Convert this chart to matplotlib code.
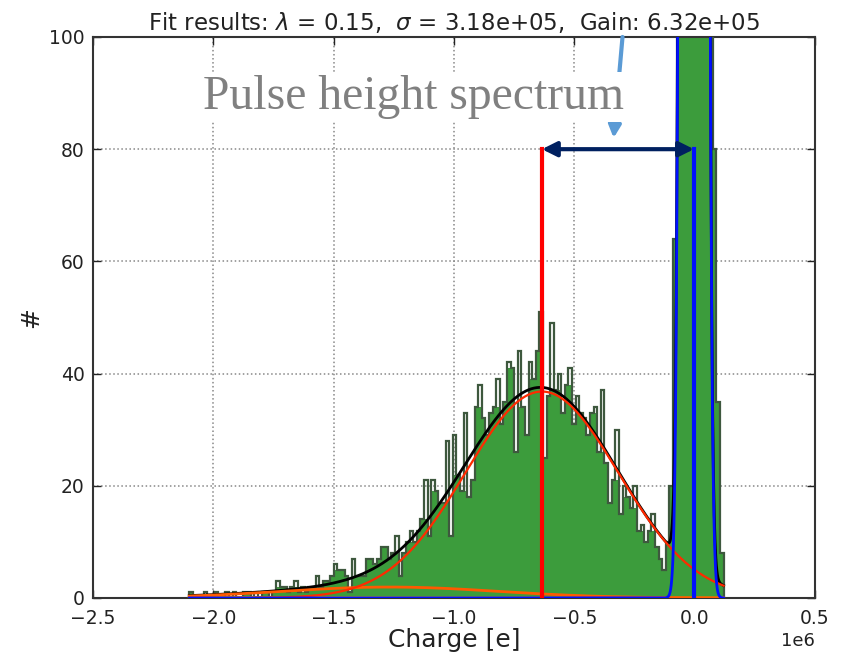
import numpy as np
import matplotlib
matplotlib.use("Agg")
import matplotlib.pyplot as plt

# fit results (from the title)
lam = 0.15
sigma = 3.18e5
gain = 6.32e5
ped_mu = -0.003e6
ped_sigma = 0.024e6
ped_amp = 5530.0
amp_1pe = 36.8

# histogram: 148 bins from -2.1e6 to 0.12e6
bin_lo = -2.1e6
bin_hi = 0.12e6
counts = [1, 0, 0, 0, 1, 0, 0, 1, 0, 0, 1, 0, 1, 0, 0, 1, 1, 0, 1, 0, 1, 1, 0,
          1, 3, 2, 2, 1, 2, 3, 1, 2, 1, 2, 2, 4, 2, 3, 3, 4, 6, 5, 5, 4, 1,
          7, 4, 4, 4, 7, 7, 6, 7, 9, 9, 7, 8, 11, 4, 8, 10, 12, 10, 12, 14,
          21, 11, 21, 19, 17, 17, 28, 11, 29, 22, 19, 33, 18, 21, 34, 38, 32,
          29, 33, 34, 39, 31, 35, 42, 41, 26, 44, 34, 29, 42, 39, 44, 51, 25,
          36, 49, 37, 40, 33, 38, 41, 31, 36, 33, 32, 29, 33, 34, 26, 37, 24,
          17, 21, 30, 15, 20, 18, 16, 20, 12, 13, 10, 12, 15, 9, 7, 5, 10, 20,
          64, 350, 900, 2100, 3900, 5100, 4700, 3000, 1300, 420, 150, 80, 35, 8]

counts = np.array(counts, dtype=float)
edges = np.linspace(bin_lo, bin_hi, len(counts) + 1)
# green fill stops at the taller neighbour, so lone spikes look hollow
padded = np.concatenate([[counts[0]], counts, [counts[-1]]])
fill_vals = np.minimum(counts, np.maximum(padded[:-2], padded[2:]))

x = np.linspace(bin_lo, bin_hi, 2000)
def gauss(x, a, mu, s):
    return a * np.exp(-(x - mu) ** 2 / (2 * s ** 2))

ped = gauss(x, ped_amp, ped_mu, ped_sigma)
pe1 = gauss(x, amp_1pe, ped_mu - gain, sigma)
pe2 = gauss(x, amp_1pe * lam / 2 / np.sqrt(2), ped_mu - 2 * gain, sigma * np.sqrt(2))
pe3 = gauss(x, amp_1pe * lam ** 2 / 6 / np.sqrt(3), ped_mu - 3 * gain, sigma * np.sqrt(3))
total = ped + pe1 + pe2 + pe3

plt.rcParams['font.family'] = ['DejaVu Sans']
fig = plt.figure(figsize=(8.42, 6.58), dpi=100)
ax = fig.add_axes([0.1105, 0.0912, 0.8575, 0.8526])

ax.stairs(fill_vals, edges, fill=True, color='#3c9c3c', zorder=2)
ax.stairs(counts, edges, color='#3e583e', lw=1.6, zorder=3)

ax.plot(x, total, color='black', lw=2, zorder=4)
ax.plot(x, pe3, color='#c89b00', lw=2.2, zorder=4)
ax.plot(x, pe2, color='#ff5a00', lw=2, zorder=4)
ax.plot(x, pe1, color='#ff2a00', lw=1.6, zorder=5)
ax.plot(x, ped, color='#0010ff', lw=2, zorder=5)

# markers of pedestal and 1 p.e. peak
ax.plot([ped_mu - gain, ped_mu - gain], [0, 80], color='#ff0000', lw=3, zorder=6)
ax.plot([ped_mu, ped_mu], [0, 80], color='#0010ff', lw=3, zorder=6)
ax.annotate('', xy=(ped_mu, 80), xytext=(ped_mu - gain, 80),
            arrowprops=dict(arrowstyle='<|-|>', color='#002060', lw=3,
                            mutation_scale=22, shrinkA=0, shrinkB=0), zorder=7)

# light blue pointer and the slide label
ax.annotate('', xy=(-0.337e6, 82), xytext=(-0.300e6, 100),
            arrowprops=dict(arrowstyle='-|>', color='#5b9bd5', lw=3,
                            mutation_scale=18, shrinkA=0, shrinkB=0), zorder=7)
ax.text(-2.045e6, 87.2, 'Pulse height spectrum', family='Liberation Serif',
        fontsize=34.3, color='#808080', zorder=8,
        bbox=dict(facecolor='white', edgecolor='none', pad=2))

ax.set_xlim(-2.5e6, 0.5e6)
ax.set_ylim(0, 100)
ax.set_xticks([-2.5e6, -2.0e6, -1.5e6, -1.0e6, -0.5e6, 0.0, 0.5e6])
ax.set_yticks([0, 20, 40, 60, 80, 100])
ax.ticklabel_format(axis='x', style='sci', scilimits=(6, 6))
ax.xaxis.get_offset_text().set_fontsize(13)
ax.tick_params(direction='in', length=6, width=1, top=True, right=True,
               labelsize=13.5, colors='#222222')
ax.tick_params(axis='x', pad=8)
ax.tick_params(axis='y', pad=6)
ax.grid(True, linestyle=':', color='#888888', lw=1.1)
for sp in ax.spines.values():
    sp.set_linewidth(1.5)
    sp.set_color('#333333')

ax.set_xlabel('Charge [e]', fontsize=18, color='#222222', labelpad=0)
ax.set_ylabel('#', fontsize=18, color='#222222')
ax.set_title(r'Fit results: $\lambda$ = 0.15,  $\sigma$ = 3.18e+05,  Gain: 6.32e+05',
             fontsize=16.5, pad=5, color='#222222')

fig.savefig('out.png', dpi=100)
